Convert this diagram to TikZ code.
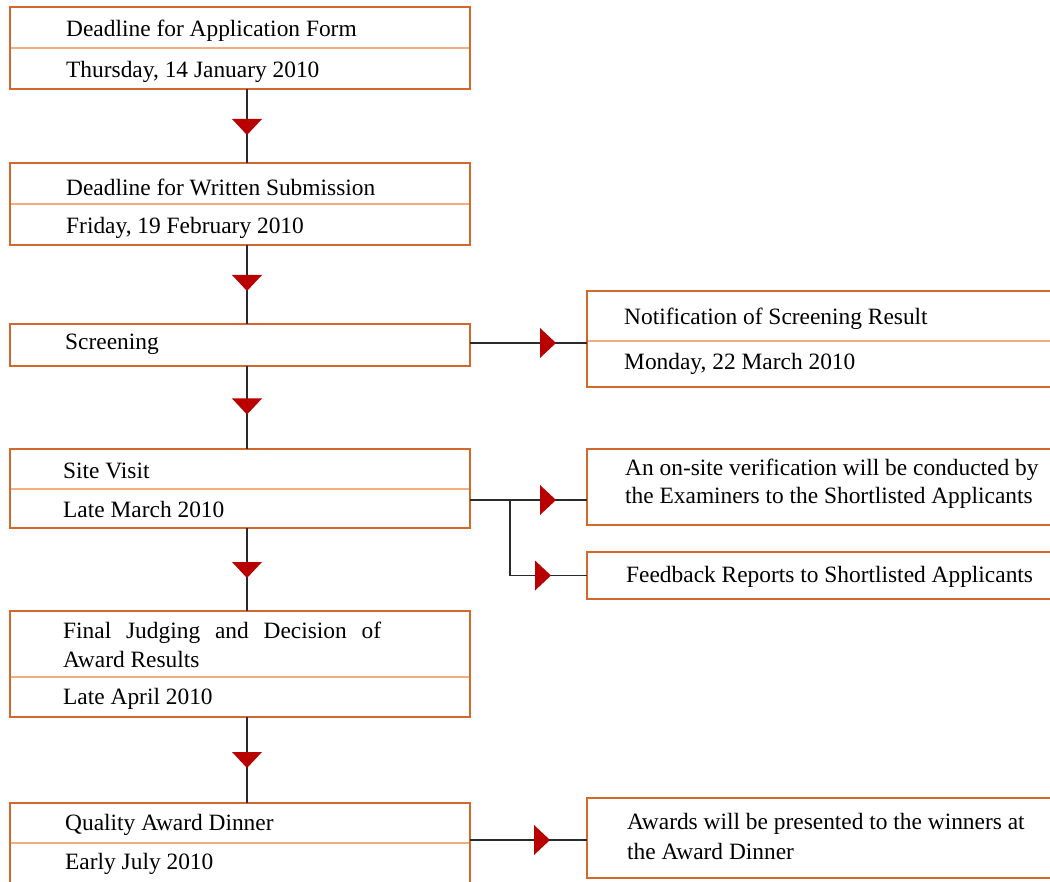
\documentclass[tikz,border=0pt]{standalone}
\usepackage{fontspec}
\setmainfont{Liberation Serif}
\usetikzlibrary{calc}
\definecolor{boxorange}{HTML}{D0692A}
\definecolor{divorange}{HTML}{F2AE80}
\definecolor{arrowred}{HTML}{B80000}
\definecolor{linegray}{HTML}{2A2A2A}
\tikzset{
  box/.style={draw=boxorange, line width=2.9pt, fill=white, rectangle, inner sep=0pt, outer sep=0pt},
  divider/.style={draw=divorange, line width=1.1pt},
  txt/.style={anchor=west, inner sep=0pt, yshift=-1.5pt, font=\fontsize{23.4}{28}\selectfont, text=black},
  conn/.style={draw=linegray, line width=1.4pt},
  dtri/.pic={\fill[arrowred] (-15,-8) -- (15,-8) -- (0,8) -- cycle;},
  rtri/.pic={\fill[arrowred] (-8,-15) -- (-8,15) -- (8,0) -- cycle;}
}
\begin{document}
\begin{tikzpicture}[x=1pt,y=-1pt]
\useasboundingbox (0,0) rectangle (1050,882);
\clip (0,0) rectangle (1050,882);
\fill[white] (0,0) rectangle (1050,882);

% left column boxes
\node[box, minimum width=460pt, minimum height=82pt] (b1) at (240,48) {};
\node[box, minimum width=460pt, minimum height=82pt] (b2) at (240,204) {};
\node[box, minimum width=460pt, minimum height=42pt] (b3) at (240,345) {};
\node[box, minimum width=460pt, minimum height=79pt] (b4) at (240,488.5) {};
\node[box, minimum width=460pt, minimum height=106pt] (b5) at (240,664) {};
\node[box, minimum width=460pt, minimum height=81pt] (b6) at (240,843.5) {};

% right column boxes
\node[box, minimum width=513pt, minimum height=96pt] (r1) at (843.5,339) {};
\node[box, minimum width=513pt, minimum height=76pt] (r2) at (843.5,487) {};
\node[box, minimum width=513pt, minimum height=47pt] (r3) at (843.5,575.5) {};
\node[box, minimum width=513pt, minimum height=80pt] (r4) at (843.5,838) {};

% dividers
\draw[divider] ([xshift=1.4pt]b1.west) -- ([xshift=-1.4pt]b1.east);
\draw[divider] ([xshift=1.4pt]b2.west) -- ([xshift=-1.4pt]b2.east);
\draw[divider] ([xshift=1.4pt,yshift=-0.5pt]b4.west) -- ([xshift=-1.4pt,yshift=-0.5pt]b4.east);
\draw[divider] ([xshift=1.4pt,yshift=-13pt]b5.west) -- ([xshift=-1.4pt,yshift=-13pt]b5.east);
\draw[divider] ([xshift=1.4pt,yshift=0.5pt]b6.west) -- ([xshift=-1.4pt,yshift=0.5pt]b6.east);
\draw[divider] ([xshift=1.4pt,yshift=-2pt]r1.west) -- ([xshift=-1.4pt,yshift=-2pt]r1.east);

% texts
\node[txt] (t1a) at (66,29) {Deadline for Application Form};
\node[txt] (t1b) at (66,70) {Thursday, 14 January 2010};
\node[txt] (t2a) at (66,186) {Deadline for Written Submission};
\node[txt] (t2b) at (66,226) {Friday, 19 February 2010};
\node[txt] (t3a) at (65,343) {Screening};
\node[txt] (t4a) at (63,469) {Site Visit};
\node[txt] (t4b) at (63,508) {Late March 2010};
\node[txt] (t5a) at (63,631) {\makebox[318pt][s]{Final Judging and Decision of}};
\node[txt] (t5b) at (63,658) {Award Results};
\node[txt] (t5c) at (63,697) {Late April 2010};
\node[txt] (t6a) at (65,823) {Quality Award Dinner};
\node[txt] (t6b) at (65,862) {Early July 2010};
\node[txt] (u1a) at (624,317) {Notification of Screening Result};
\node[txt] (u1b) at (624,362) {Monday, 22 March 2010};
\node[txt] (u2a) at (625,468) {An on-site verification will be conducted by};
\node[txt] (u2b) at (625,496) {the Examiners to the Shortlisted Applicants};
\node[txt] (u3a) at (626,575) {Feedback Reports to Shortlisted Applicants};
\node[txt] (u4a) at (627,822) {Awards will be presented to the winners at};
\node[txt] (u4b) at (627,850) {the Award Dinner};

% vertical connectors
\draw[conn] ([xshift=7pt]b1.south) -- ([xshift=7pt]b2.north);
\draw[conn] ([xshift=7pt]b2.south) -- ([xshift=7pt]b3.north);
\draw[conn] ([xshift=7pt]b3.south) -- ([xshift=7pt]b4.north);
\draw[conn] ([xshift=7pt]b4.south) -- ([xshift=7pt]b5.north);
\draw[conn] ([xshift=7pt]b5.south) -- ([xshift=7pt]b6.north);
\pic at (247,127) {dtri};
\pic at (247,283) {dtri};
\pic at (247,406.5) {dtri};
\pic at (247,570) {dtri};
\pic at (247,760) {dtri};

% horizontal connectors
\draw[conn] ([yshift=2pt]b3.east) -- ([yshift=2pt]b3.east -| r1.west);
\pic at (548,343) {rtri};
\draw[conn] ([yshift=-11.5pt]b4.east) -- ([yshift=-11.5pt]b4.east -| r2.west);
\coordinate (br) at (510,500);
\draw[conn] (br) |- (r3.west);
\pic at (548,500) {rtri};
\pic at (543,575.5) {rtri};
\draw[conn] ([yshift=3.5pt]b6.east) -- ([yshift=3.5pt]b6.east -| r4.west);
\pic at (542,840) {rtri};
\end{tikzpicture}
\end{document}
